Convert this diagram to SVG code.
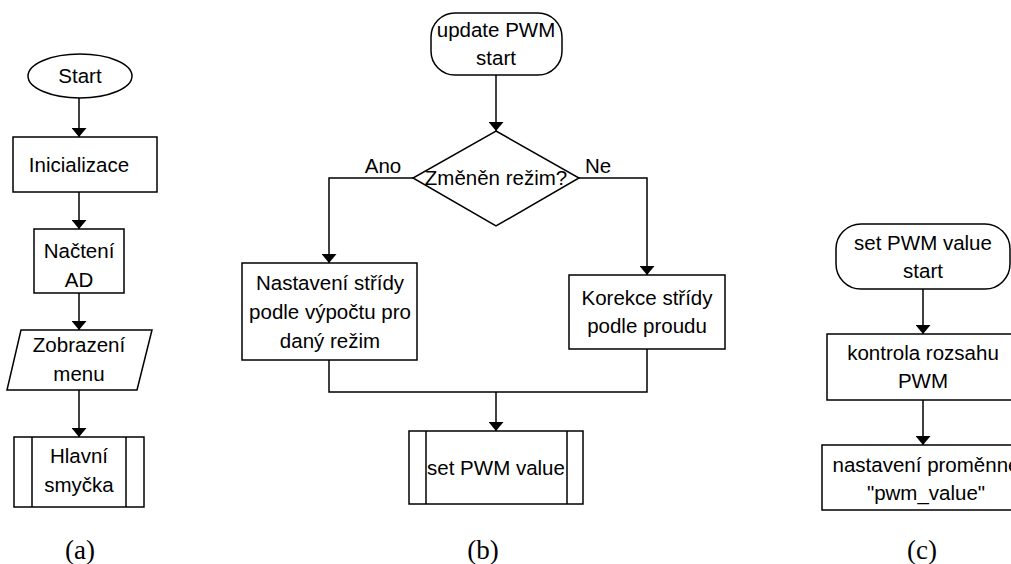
<svg xmlns="http://www.w3.org/2000/svg" width="1011" height="564" viewBox="0 0 1011 564">
<style>
.s{fill:#fff;stroke:#000;stroke-width:1.5}
.l{fill:none;stroke:#000;stroke-width:1.5}
.t{font-family:"Liberation Sans",Arial,sans-serif;font-size:20.5px;fill:#000;text-anchor:middle}
.c{font-family:"Liberation Serif","Times New Roman",serif;font-size:27px;fill:#000;text-anchor:middle}
</style>
<defs>
<marker id="arr" markerUnits="userSpaceOnUse" viewBox="0 0 9 15" refX="9" refY="7.5" markerWidth="9" markerHeight="15" orient="auto">
<path d="M0,0 L9,7.5 L0,15 z" fill="#000"/>
</marker>
</defs>
<rect width="1011" height="564" fill="#fff"/>
<g id="connectors">
<path class="l" d="M79,98 V137" marker-end="url(#arr)"/>
<path class="l" d="M79,192 V229" marker-end="url(#arr)"/>
<path class="l" d="M79,293 V330" marker-end="url(#arr)"/>
<path class="l" d="M79,390 V437" marker-end="url(#arr)"/>
<path class="l" d="M496,75 V131" marker-end="url(#arr)"/>
<path class="l" d="M413,178 H329 V263" marker-end="url(#arr)"/>
<path class="l" d="M579,178 H647 V275" marker-end="url(#arr)"/>
<path class="l" d="M329,360 V392 H647 V349"/>
<path class="l" d="M496,392 V431" marker-end="url(#arr)"/>
<path class="l" d="M923,289 V334" marker-end="url(#arr)"/>
<path class="l" d="M923,400 V445" marker-end="url(#arr)"/>
</g>
<g id="a-start"><ellipse class="s" cx="80" cy="76" rx="52" ry="22"/><text class="t" x="80" y="83">Start</text></g>
<g id="a-init"><rect class="s" x="13" y="137" width="144" height="55"/><text class="t" x="79" y="172">Inicializace</text></g>
<g id="a-ad"><rect class="s" x="34" y="229" width="90" height="64"/><text class="t" x="79" y="258">Načtení</text><text class="t" x="79" y="287">AD</text></g>
<g id="a-menu"><polygon class="s" points="21,330 152,330 137,390 7,390"/><text class="t" x="79" y="352">Zobrazení</text><text class="t" x="79" y="381">menu</text></g>
<g id="a-loop"><rect class="s" x="14" y="437" width="130" height="70"/><path class="l" d="M32,437 V507 M126,437 V507"/><text class="t" x="79" y="463">Hlavní</text><text class="t" x="79" y="492">smyčka</text></g>
<g id="b-start"><rect class="s" x="431" y="13" width="131" height="62" rx="24" ry="24"/><text class="t" x="496" y="37">update PWM</text><text class="t" x="496" y="65">start</text></g>
<g id="b-dec"><polygon class="s" points="496,131 579,178 496,226 413,178"/><text class="t" x="496" y="185">Změněn režim?</text></g>
<g id="b-labels"><text class="t" x="383" y="173">Ano</text><text class="t" x="598" y="173">Ne</text></g>
<g id="b-left"><rect class="s" x="242" y="263" width="175" height="97"/><text class="t" x="330" y="290">Nastavení střídy</text><text class="t" x="330" y="319">podle výpočtu pro</text><text class="t" x="330" y="348">daný režim</text></g>
<g id="b-right"><rect class="s" x="569" y="275" width="156" height="74"/><text class="t" x="647" y="305">Korekce střídy</text><text class="t" x="647" y="333">podle proudu</text></g>
<g id="b-set"><rect class="s" x="409" y="431" width="174" height="73"/><path class="l" d="M426,431 V504 M567,431 V504"/><text class="t" x="496" y="475">set PWM value</text></g>
<g id="c-start"><rect class="s" x="836" y="224" width="174" height="65" rx="25" ry="25"/><text class="t" x="923" y="250">set PWM value</text><text class="t" x="923" y="278">start</text></g>
<g id="c-range"><rect class="s" x="827" y="334" width="192" height="66"/><text class="t" x="923" y="360">kontrola rozsahu</text><text class="t" x="923" y="388">PWM</text></g>
<g id="c-var"><rect class="s" x="822" y="445" width="203" height="65"/><text class="t" x="926" y="472">nastavení proměnné</text><text class="t" x="926" y="500">"pwm_value"</text></g>
<g id="captions"><text class="c" x="80" y="559">(a)</text><text class="c" x="483" y="559">(b)</text><text class="c" x="922" y="559">(c)</text></g>
</svg>
